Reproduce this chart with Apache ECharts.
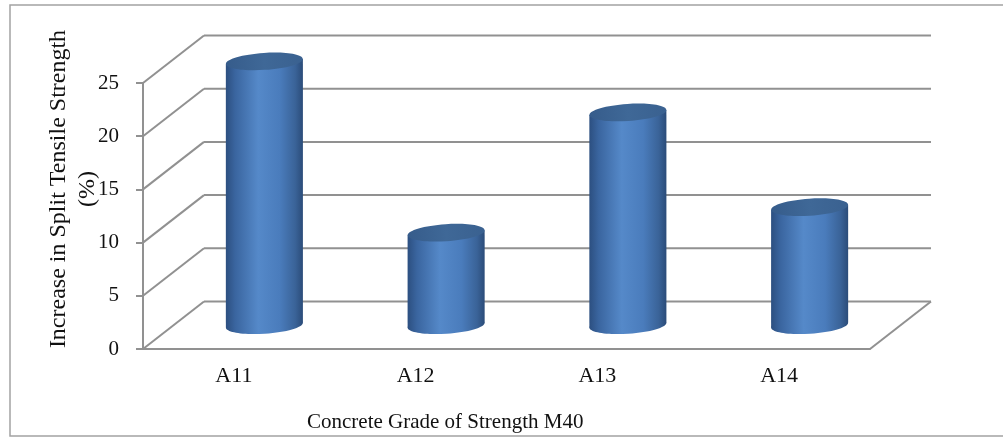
<!DOCTYPE html>
<html>
<head>
<meta charset="utf-8">
<script src="https://cdn.jsdelivr.net/npm/echarts@6/dist/echarts.min.js"></script>
<style>
  html, body { margin: 0; padding: 0; background: #fff; }
  #chart { width: 1003px; height: 438px; }
</style>
</head>
<body>
<div id="chart"></div>
<script>
// data
const categories = ['A11', 'A12', 'A13', 'A14'];
const increase = [24.8, 8.7, 20.0, 11.1];
const yTicks = [0, 5, 10, 15, 20, 25];

// fake 3d depth of the plot box (pixels)
const DEPTH_X = 61;
const DEPTH_Y = 47.5;
const FONT = '"Liberation Serif", "Times New Roman", serif';
const GRID_COLOR = '#919191';

const chart = echarts.init(document.getElementById('chart'));

// back wall + side wall lines
function renderWalls(params, api) {
  const cs = params.coordSys;
  const y = api.coord([0, api.value(1)])[1];
  const x0 = cs.x;
  const x1 = cs.x + cs.width;
  const lineStyle = { stroke: GRID_COLOR, lineWidth: 2 };
  const children = [
    { type: 'line', shape: { x1: x0, y1: y, x2: x0 + DEPTH_X, y2: y - DEPTH_Y }, style: lineStyle },
    { type: 'line', shape: { x1: x0 + DEPTH_X, y1: y - DEPTH_Y, x2: x1 + DEPTH_X, y2: y - DEPTH_Y }, style: lineStyle }
  ];
  if (api.value(1) === 0) {
    // floor right edge
    children.push({ type: 'line', shape: { x1: x1, y1: y, x2: x1 + DEPTH_X, y2: y - DEPTH_Y }, style: lineStyle });
  }
  return { type: 'group', children: children };
}

// cylinders, placed at mid depth
function renderCylinder(params, api) {
  const i = api.value(0);
  const base = api.coord([i, 0]);
  const top = api.coord([i, api.value(1)]);
  const cx = base[0] + DEPTH_X / 2;
  const yb = base[1] - DEPTH_Y / 2;
  const yt = top[1] - DEPTH_Y / 2;
  const rx = api.size([1, 0])[0] * 0.212;
  const ry = 8.5;
  const tilt = 0.065;
  const s = Math.sin(tilt) * rx;

  const bodyFill = new echarts.graphic.LinearGradient(0, 0, 1, 0, [
    { offset: 0, color: '#2c4f80' },
    { offset: 0.12, color: '#3a659f' },
    { offset: 0.42, color: '#5589c9' },
    { offset: 0.7, color: '#4a7cbc' },
    { offset: 0.9, color: '#3a6398' },
    { offset: 1, color: '#2b4c79' }
  ]);

  return {
    type: 'group',
    children: [
      {
        type: 'ellipse',
        x: cx, y: yb, rotation: tilt,
        shape: { cx: 0, cy: 0, rx: rx, ry: ry },
        style: { fill: bodyFill }
      },
      {
        type: 'polygon',
        shape: { points: [[cx - rx, yt + s], [cx + rx, yt - s], [cx + rx, yb - s], [cx - rx, yb + s]] },
        style: { fill: bodyFill }
      },
      {
        type: 'ellipse',
        x: cx, y: yt, rotation: tilt,
        shape: { cx: 0, cy: 0, rx: rx, ry: ry },
        style: {
          fill: new echarts.graphic.LinearGradient(0, 0, 1, 0, [
            { offset: 0, color: '#365c8b' },
            { offset: 0.5, color: '#3f6897' },
            { offset: 1, color: '#3a6190' }
          ])
        }
      }
    ]
  };
}

const option = {
  backgroundColor: '#ffffff',
  animation: false,
  title: {
    text: 'Concrete Grade of Strength M40',
    left: 307,
    top: 412,
    padding: 0,
    textStyle: { fontFamily: FONT, fontSize: 21, fontWeight: 'normal', color: '#111' }
  },
  graphic: [
    {
      type: 'rect',
      shape: { x: 10, y: 5, width: 1000, height: 431 },
      style: { fill: null, stroke: '#a3a3a3', lineWidth: 1.5 },
      silent: true
    },
    {
      type: 'text',
      x: 73, y: 189,
      rotation: Math.PI / 2,
      style: {
        text: 'Increase in Split Tensile Strength\n(%)',
        fontFamily: FONT,
        fontSize: 24,
        lineHeight: 29,
        fill: '#111',
        textAlign: 'center',
        textVerticalAlign: 'middle'
      }
    }
  ],
  grid: { left: 143, right: 133, top: 83, bottom: 89 },
  xAxis: {
    type: 'category',
    data: categories,
    axisLine: { lineStyle: { color: GRID_COLOR, width: 2 } },
    axisTick: { length: 5, lineStyle: { color: GRID_COLOR, width: 2 } },
    axisLabel: { margin: 16, color: '#111', fontFamily: FONT, fontSize: 22 },
    splitLine: { show: false }
  },
  yAxis: {
    type: 'value',
    min: 0,
    max: 25,
    interval: 5,
    axisLine: { show: true, lineStyle: { color: GRID_COLOR, width: 2 } },
    axisTick: { show: true, length: 7, lineStyle: { color: GRID_COLOR, width: 2 } },
    axisLabel: { margin: 24, color: '#111', fontFamily: FONT, fontSize: 21 },
    splitLine: { show: false }
  },
  series: [
    {
      type: 'custom',
      z: 1,
      silent: true,
      renderItem: renderWalls,
      data: yTicks.map(v => [0, v])
    },
    {
      type: 'custom',
      z: 3,
      renderItem: renderCylinder,
      data: increase.map((v, i) => [i, v])
    }
  ]
};

chart.setOption(option);
</script>
</body>
</html>
